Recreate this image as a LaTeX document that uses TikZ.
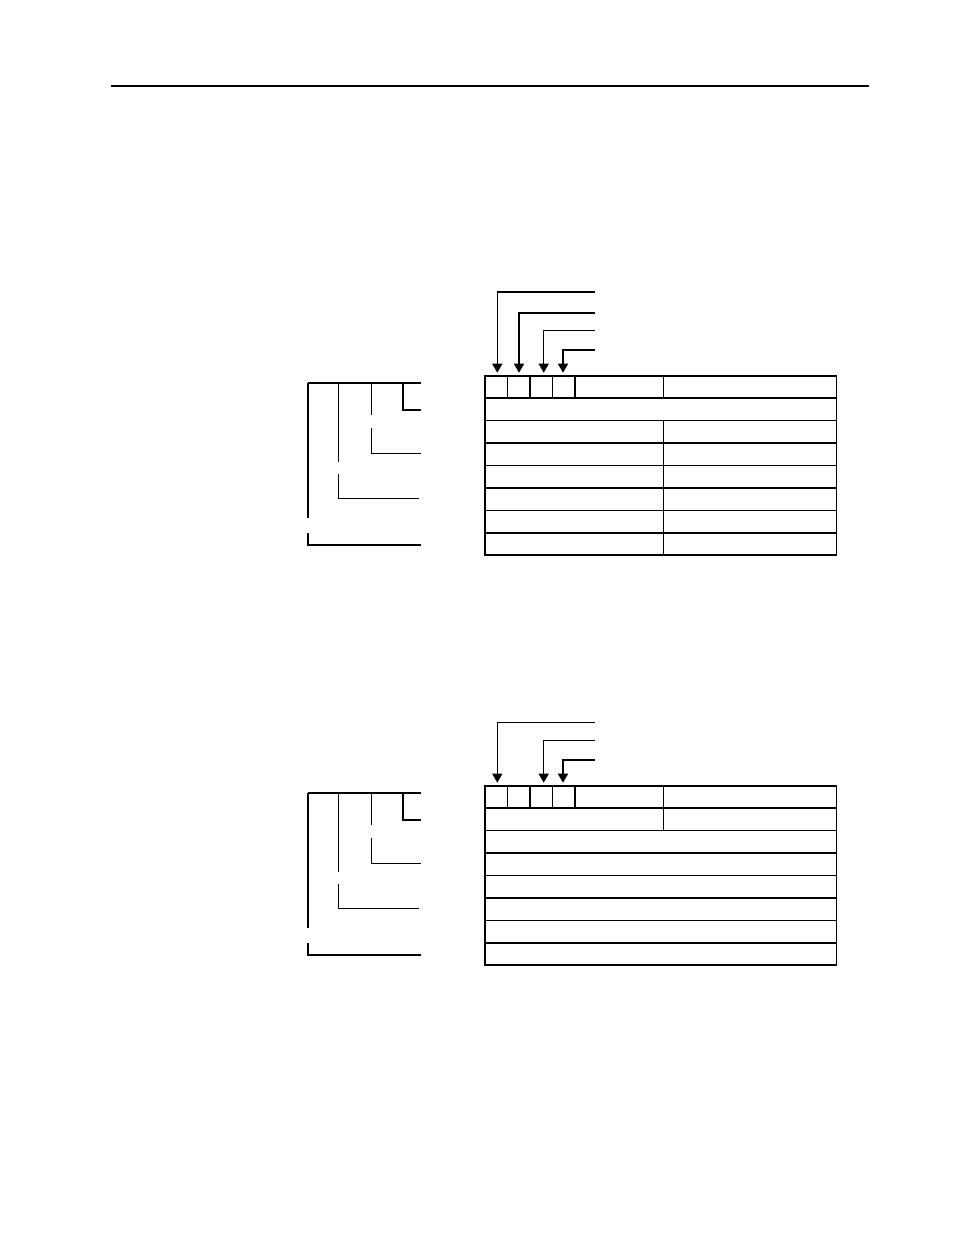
\documentclass[tikz,border=0pt]{standalone}
\usetikzlibrary{arrows.meta}
\begin{document}
\begin{tikzpicture}[x=1pt,y=-1pt,
  thinln/.style={line width=0.9pt},
  thickln/.style={line width=1.8pt},
  feed/.style={line width=1.6pt,-{Triangle[width=10pt,length=9pt]}},
  thinbr/.style={line width=0.9pt},
  thickbr/.style={line width=1.8pt}]
\useasboundingbox (0,0) rectangle (954,1235);
\draw[line width=1.4pt] (111,86) -- (869,86);

% ---------- Diagram 1 ----------
\begin{scope}
  % arrow targets (bit cells)
  \coordinate (a1) at (497.3,372.7);
  \coordinate (a2) at (519,372.7);
  \coordinate (a3) at (543.7,372.7);
  \coordinate (a4) at (563,372.7);
  \coordinate (s1) at (595,292);
  \coordinate (s2) at (595,312.7);
  \coordinate (s3) at (595,330.7);
  \coordinate (s4) at (595,350);
  \draw[feed] (s1) -| (a1);
  \draw[feed] (s2) -| (a2);
  \draw[feed,line width=1.3pt] (s3) -| (a3);
  \draw[feed] (s4) -| (a4);
  % table
  \foreach \k in {1,3,5,7} \draw[thickln] (485,376+\k*22.375) -- (836.5,376+\k*22.375);
  \foreach \k in {2,4,6} \draw[thinln] (485,376+\k*22.375) -- (836.5,376+\k*22.375);
  \foreach \x in {507.3,552.7,663.3} \draw[thinln] (\x,376) -- (\x,398.4);
  \foreach \x in {530,575} \draw[thickln] (\x,376) -- (\x,398.4);
  \draw[thinln] (663.3,420.75) -- (663.3,555);
  \draw[thickln,line join=miter] (485,376) rectangle (836.5,555);
  % bracket
  \draw[thickbr] (308.3,382.7) -- (420.7,382.7);
  \draw[thickbr] (308.3,382.7) -- (308.3,518.3);
  \draw[thickbr] (308.3,533.3) |- (420.7,545);
  \draw[thinbr] (338.3,382.7) -- (338.3,461.7);
  \draw[thinbr] (338.3,474.3) |- (419.3,498.3);
  \draw[thinbr] (371,382.7) -- (371,415);
  \draw[thinbr] (371,428.3) |- (420.7,453.3);
  \draw[thickbr] (402.7,382.7) |- (420.7,410);
\end{scope}

% ---------- Diagram 2 ----------
\begin{scope}[shift={(0,410)}]
  \coordinate (c1) at (497.3,372.7);
  \coordinate (c3) at (543.7,372.7);
  \coordinate (c4) at (563,372.7);
  \coordinate (t1) at (595,312.7);
  \coordinate (t3) at (595,330.7);
  \coordinate (t4) at (595,350);
  \draw[feed,line width=1.3pt] (t1) -| (c1);
  \draw[feed,line width=1.2pt] (t3) -| (c3);
  \draw[feed] (t4) -| (c4);
  % table
  \foreach \k in {1,3,5,7} \draw[thickln] (485,376+\k*22.375) -- (836.5,376+\k*22.375);
  \foreach \k in {2,4,6} \draw[thinln] (485,376+\k*22.375) -- (836.5,376+\k*22.375);
  \foreach \x in {507.3,552.7} \draw[thinln] (\x,376) -- (\x,398.4);
  \foreach \x in {530,575} \draw[thickln] (\x,376) -- (\x,398.4);
  \draw[thinln] (663.3,376) -- (663.3,420.75);
  \draw[thickln,line join=miter] (485,376) rectangle (836.5,555);
  % bracket
  \draw[thickbr] (308.3,382.7) -- (420.7,382.7);
  \draw[thickbr] (308.3,382.7) -- (308.3,518.3);
  \draw[thickbr] (308.3,533.3) |- (420.7,545);
  \draw[thinbr] (338.3,382.7) -- (338.3,461.7);
  \draw[thinbr] (338.3,474.3) |- (419.3,498.3);
  \draw[thinbr] (371,382.7) -- (371,415);
  \draw[thinbr] (371,428.3) |- (420.7,453.3);
  \draw[thickbr] (402.7,382.7) |- (420.7,410);
\end{scope}
\end{tikzpicture}
\end{document}
